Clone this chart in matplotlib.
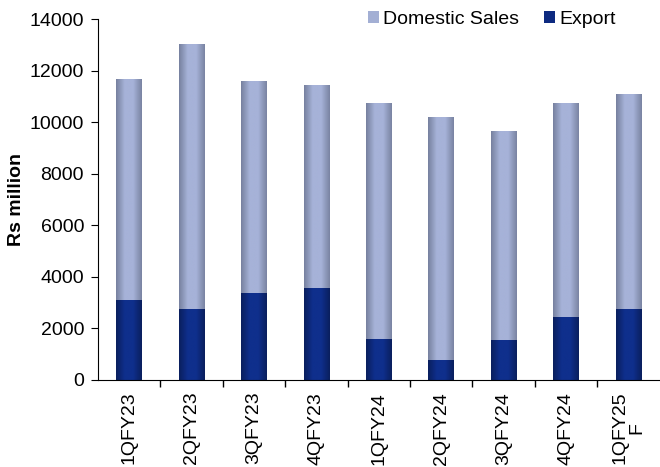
import numpy as np
import matplotlib
matplotlib.use("Agg")
import matplotlib.pyplot as plt
from matplotlib.colors import LinearSegmentedColormap
from matplotlib.ticker import FixedLocator, NullFormatter

plt.rcParams['font.family'] = ['Liberation Sans', 'DejaVu Sans']

categories = ["1QFY23", "2QFY23", "3QFY23", "4QFY23", "1QFY24", "2QFY24", "3QFY24", "4QFY24", "1QFY25\nF"]
total_sales = [11680, 13030, 11600, 11440, 10750, 10200, 9650, 10750, 11100]
export = [3100, 2750, 3380, 3570, 1590, 780, 1550, 2440, 2750]
domestic = [t - e for t, e in zip(total_sales, export)]

FS = 14
fig = plt.figure(figsize=(6.6, 4.67), dpi=100)
ax = fig.add_axes([0.1485, 0.1863, 0.851, 0.773])

x = np.arange(len(categories))
w = 0.41
b_exp = ax.bar(x, export, w, color="#0d2a80", label="Export", zorder=2)
b_dom = ax.bar(x, domestic, w, bottom=export, color="#a3afd4", label="Domestic Sales", zorder=2)

cm_dom = LinearSegmentedColormap.from_list("dom", ["#77819f", "#a6b2d8", "#a6b2d8", "#7a84a2"])
cm_exp = LinearSegmentedColormap.from_list("exp", ["#0a1f5e", "#0f2f8c", "#0f2f8c", "#0a1f5e"])
grad = np.linspace(0, 1, 64).reshape(1, -1)
for bars, cm in ((b_exp, cm_exp), (b_dom, cm_dom)):
    for p in bars:
        x0, y0 = p.get_x(), p.get_y()
        im = ax.imshow(grad, cmap=cm, aspect="auto", extent=(x0, x0 + p.get_width(), y0, y0 + p.get_height()),
                       zorder=2.5, interpolation="bilinear")
        im.set_clip_path(p)

ax.set_xlim(-0.5, len(categories) - 0.5)
ax.set_ylim(0, 14000)
ax.set_yticks(range(0, 14001, 2000))
ax.set_xticks(x)
ax.set_xticklabels(categories, rotation=90, fontsize=FS, va="top", ha="center", linespacing=1.0)
ax.tick_params(axis="x", length=0, pad=8.5)
ax.xaxis.set_minor_locator(FixedLocator(np.arange(0.5, len(categories) - 0.5, 1)))
ax.xaxis.set_minor_formatter(NullFormatter())
ax.tick_params(axis="x", which="minor", length=5, direction="out", width=1)
ax.tick_params(axis="y", length=5, direction="out", labelsize=FS, pad=5)
for s in ("top", "right"):
    ax.spines[s].set_visible(False)
ax.set_ylabel("Rs million", fontsize=FS, fontweight="bold")
ax.yaxis.set_label_coords(-0.130, 0.5)

leg = fig.legend([b_dom, b_exp], ["Domestic Sales", "Export"], loc="center left",
                 bbox_to_anchor=(368 / 660, 1 - 19 / 467), ncol=2, frameon=False, fontsize=FS,
                 handlelength=0.57, handleheight=0.57, handletextpad=0.2, columnspacing=1.3,
                 borderpad=0, borderaxespad=0)

fig.savefig("out.png", dpi=100)
